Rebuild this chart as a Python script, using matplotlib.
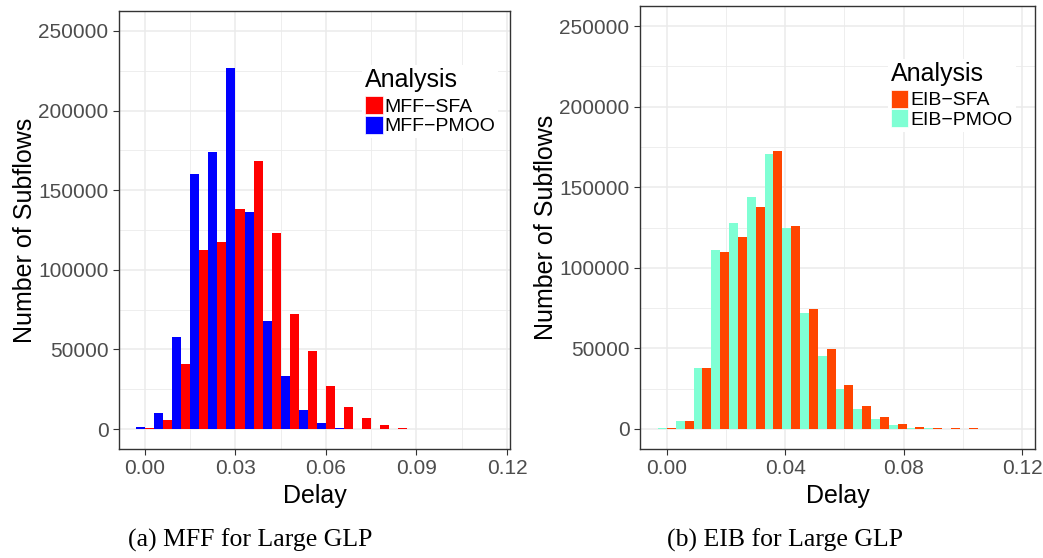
import matplotlib
matplotlib.use("Agg")
import matplotlib.pyplot as plt
from matplotlib.patches import Patch
from matplotlib.ticker import MultipleLocator
import numpy as np

plt.rcParams['font.family'] = ['Liberation Sans', 'DejaVu Sans']

# histogram bin centres (binwidth 0.006)
delay_bins = [0.000, 0.006, 0.012, 0.018, 0.024, 0.030, 0.036, 0.042, 0.048, 0.054,
              0.060, 0.066, 0.072, 0.078, 0.084, 0.090, 0.096, 0.102, 0.108, 0.114]
bin_width = 0.006

# subflow counts per delay bin
mff_sfa = [400, 6000, 41000, 112700, 117700, 138300, 168500, 123300, 72100, 49000,
           27100, 14000, 7100, 2700, 800, 300, 200, 150, 100, 80]
mff_pmoo = [1000, 9800, 57900, 160400, 174200, 226600, 136400, 67700, 33500, 12100,
            4000, 800, 200, 200, 100, 60, 50, 40, 30, 20]
eib_sfa = [400, 5000, 37900, 110000, 119300, 138000, 172200, 126200, 74600, 49700,
           27500, 14500, 7600, 3300, 1400, 800, 300, 250, 200, 200]
eib_pmoo = [600, 5000, 37900, 111300, 128000, 144200, 170900, 124900, 72100, 45400,
            25000, 12600, 6400, 2700, 800, 300, 150, 100, 80, 50]

yticks = [0, 50000, 100000, 150000, 200000, 250000]

fig = plt.figure(figsize=(10.43, 5.58), dpi=100)
ax1 = fig.add_axes([119 / 1043, 109 / 558, 391 / 1043, 438 / 558])
ax2 = fig.add_axes([640 / 1043, 109 / 558, 395 / 1043, 443 / 558])

panels = [
    (ax1, mff_sfa, mff_pmoo, 'MFF\u2212SFA', 'MFF\u2212PMOO', '#FF0000', '#0000FF',
     [0.00, 0.03, 0.06, 0.09, 0.12], 0.015, (-0.0086, 0.121), (0.622, 0.877)),
    (ax2, eib_sfa, eib_pmoo, 'EIB\u2212SFA', 'EIB\u2212PMOO', '#FF4500', '#7FFFD4',
     [0.00, 0.04, 0.08, 0.12], 0.02, (-0.0091, 0.1244), (0.628, 0.881)),
]

x = np.array(delay_bins)
for ax, sfa, pmoo, lab_sfa, lab_pmoo, c_sfa, c_pmoo, xt, xminor, xl, legpos in panels:
    # dodged bars: PMOO on the left half of each bin, SFA on the right
    ax.bar(x - bin_width / 4, pmoo, width=bin_width / 2, color=c_pmoo, zorder=2)
    ax.bar(x + bin_width / 4, sfa, width=bin_width / 2, color=c_sfa, zorder=2)

    ax.set_xlim(*xl)
    ax.set_ylim(-12500, 262500)
    ax.set_xticks(xt)
    ax.set_xticklabels(['%.2f' % v for v in xt])
    ax.set_yticks(yticks)
    ax.set_yticklabels([str(v) for v in yticks])
    ax.xaxis.set_minor_locator(MultipleLocator(xminor))
    ax.yaxis.set_minor_locator(MultipleLocator(25000))
    ax.grid(which='major', color='#EBEBEB', lw=1.1, zorder=0)
    ax.grid(which='minor', color='#EBEBEB', lw=0.6, zorder=0)
    ax.set_axisbelow(True)
    ax.tick_params(which='major', length=4.5, width=0.8, color='#333333',
                   labelsize=15, labelcolor='#4D4D4D', pad=3)
    ax.tick_params(which='minor', length=0)
    for s in ax.spines.values():
        s.set_color('#333333')
        s.set_linewidth(1.0)

    ax.set_xlabel('Delay', fontsize=18, labelpad=4)
    ax.set_ylabel('Number of Subflows', fontsize=18, labelpad=1)

    handles = [Patch(facecolor=c_sfa, edgecolor='white', lw=0.5, label=lab_sfa),
               Patch(facecolor=c_pmoo, edgecolor='white', lw=0.5, label=lab_pmoo)]
    leg = ax.legend(handles=handles, title='Analysis', loc='upper left',
                    bbox_to_anchor=legpos, fontsize=14, title_fontsize=18,
                    frameon=True, fancybox=False, framealpha=1, edgecolor='none',
                    borderpad=0.15, labelspacing=0.0, handlelength=0.9,
                    handleheight=1.05, handletextpad=0.1, borderaxespad=0)
    leg._legend_box.align = 'left'
    leg._legend_box.sep = 3

fig.text(250 / 1043, 1 - 540 / 558, '(a) MFF for Large GLP', ha='center', va='center',
         fontsize=18.5, family=['Liberation Serif', 'DejaVu Serif'])
fig.text(785 / 1043, 1 - 540 / 558, '(b) EIB for Large GLP', ha='center', va='center',
         fontsize=18.5, family=['Liberation Serif', 'DejaVu Serif'])

fig.savefig('out.png', dpi=100)
